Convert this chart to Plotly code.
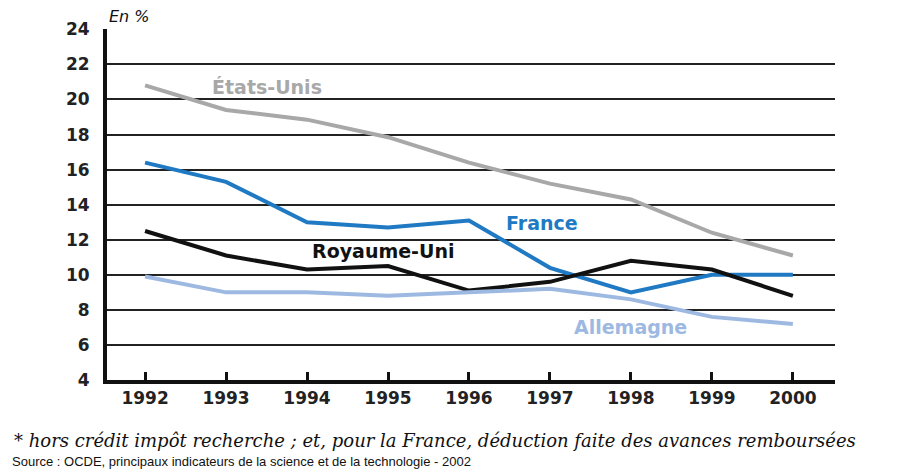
import plotly.graph_objects as go

years = [1992, 1993, 1994, 1995, 1996, 1997, 1998, 1999, 2000]
etats_unis = [20.8, 19.4, 18.85, 17.85, 16.4, 15.2, 14.3, 12.4, 11.1]
france = [16.4, 15.3, 13.0, 12.7, 13.1, 10.4, 9.0, 10.0, 10.0]
royaume_uni = [12.5, 11.1, 10.3, 10.5, 9.1, 9.6, 10.8, 10.3, 8.8]
allemagne = [9.9, 9.0, 9.0, 8.8, 9.0, 9.2, 8.6, 7.6, 7.2]
y_ticks = [4, 6, 8, 10, 12, 14, 16, 18, 20, 22, 24]

series = [
    ("États-Unis", etats_unis, "#a8a8a8", 1993.51, 20.7),
    ("France", france, "#2079c3", 1996.90, 12.95),
    ("Royaume-Uni", royaume_uni, "#111111", 1994.94, 11.35),
    ("Allemagne", allemagne, "#9db9e2", 1998.0, 7.02),
]

fig = go.Figure()
for name, vals, color, lx, ly in series:
    fig.add_trace(go.Scatter(x=years, y=vals, mode="lines", name=name,
                             line=dict(color=color, width=4), showlegend=False))
    fig.add_annotation(x=lx, y=ly, text="<b>%s</b>" % name, showarrow=False,
                       font=dict(family="DejaVu Sans", size=19, color=color),
                       xanchor="center", yanchor="middle")

fig.add_annotation(xref="paper", yref="paper", x=0.0, y=1.0, yshift=13,
                   text="<i>En %</i>", showarrow=False, xanchor="left", yanchor="middle",
                   font=dict(family="DejaVu Sans", size=16, color="#111"))
fig.add_annotation(xref="paper", yref="paper", x=-0.1305, y=0, yshift=-60,
                   text="<i>* hors crédit impôt recherche ; et, pour la France, déduction faite des avances remboursées</i>",
                   showarrow=False, xanchor="left", yanchor="middle",
                   font=dict(family="DejaVu Serif", size=18, color="#111"))
fig.add_annotation(xref="paper", yref="paper", x=-0.1332, y=0, yshift=-81,
                   text="Source : OCDE, principaux indicateurs de la science et de la technologie - 2002",
                   showarrow=False, xanchor="left", yanchor="middle",
                   font=dict(family="Liberation Sans", size=13, color="#111"))

fig.update_layout(
    width=908, height=465,
    margin=dict(l=99, r=81, t=21, b=93),
    paper_bgcolor="white", plot_bgcolor="white",
    xaxis=dict(range=[1991.53, 2000.52], tickvals=years, ticks="inside", ticklen=8,
               tickwidth=3, tickcolor="#111", showline=True, linewidth=4, linecolor="#111",
               showgrid=False, zeroline=False,
               tickfont=dict(family="DejaVu Sans", size=17, color="#222", weight="bold")),
    yaxis=dict(range=[4, 24.02], tickvals=y_ticks, showline=True, linewidth=4, linecolor="#111",
               showgrid=True, gridcolor="#222", gridwidth=1.5, zeroline=False,
               ticks="", ticklabelstandoff=10,
               tickfont=dict(family="DejaVu Sans", size=17, color="#222", weight="bold")),
)

fig.write_html("out.html")
